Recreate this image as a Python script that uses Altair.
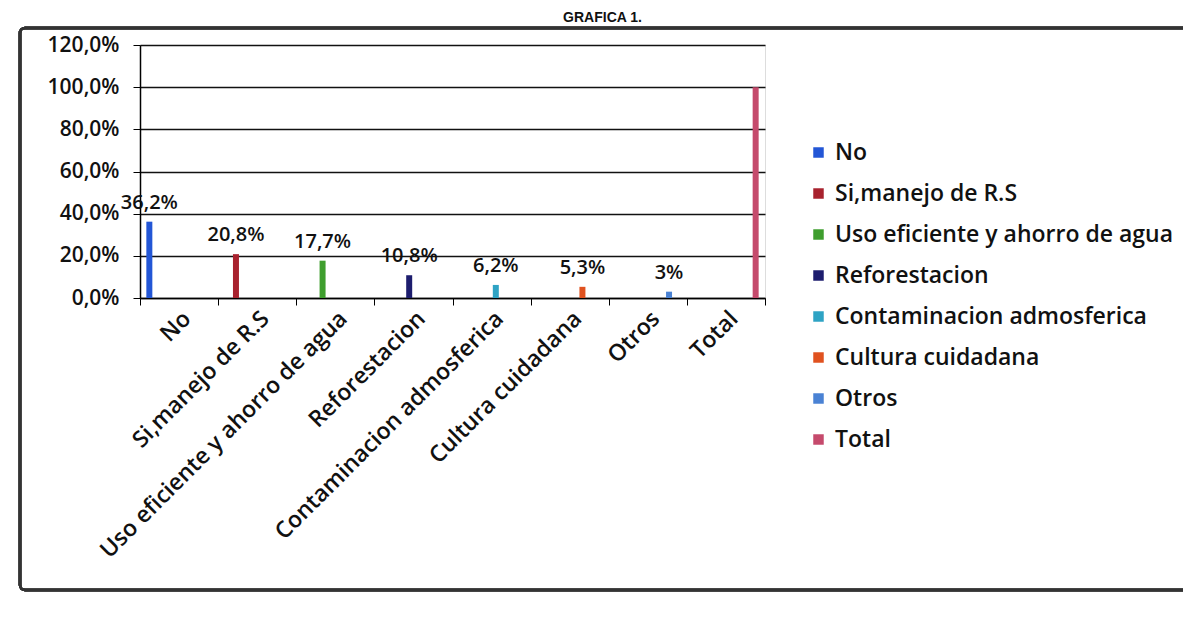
import altair as alt
import pandas as pd

categories = ["No", "Si,manejo de R.S", "Uso eficiente y ahorro de agua", "Reforestacion",
              "Contaminacion admosferica", "Cultura cuidadana", "Otros", "Total"]
values = [0.362, 0.208, 0.177, 0.108, 0.062, 0.053, 0.03, 1.0]
value_labels = ["36,2%", "20,8%", "17,7%", "10,8%", "6,2%", "5,3%", "3%", ""]
colors = ["#2356d6", "#a8222e", "#3f9e2e", "#1d1d6e", "#2ea3c4", "#e0521f", "#4a82d4", "#c54a6c"]
y_ticks = [0, 0.2, 0.4, 0.6, 0.8, 1.0, 1.2]

df = pd.DataFrame({"categoria": categories, "serie": categories,
                   "valor": values, "etiqueta": value_labels})

FONT = "Open Sans"

x_enc = alt.X("categoria:N", sort=categories, title=None,
              scale=alt.Scale(paddingInner=0, paddingOuter=0),
              axis=alt.Axis(labelAngle=-45, labelFontSize=23, labelColor="#111",
                            labelFont=FONT, labelFontWeight=600,
                            tickBand="extent", tickColor="#000",
                            domainColor="#000", domainWidth=1.5, tickSize=7,
                            labelPadding=2, labelLimit=500))
xoff = alt.XOffset("serie:N", sort=categories,
                   scale=alt.Scale(domain=categories, paddingOuter=0.6, paddingInner=0))

bars = alt.Chart(df).mark_bar(size=6).encode(
    x=x_enc,
    xOffset=xoff,
    y=alt.Y("valor:Q", title=None,
            scale=alt.Scale(domain=[0, 1.2], nice=False),
            axis=alt.Axis(values=y_ticks, labelFontSize=21, labelFont=FONT,
                          labelFontWeight=600, labelColor="#111",
                          gridColor="#111", gridWidth=1.6,
                          domainColor="#000", domainWidth=1.5,
                          tickColor="#000", tickSize=7, labelPadding=14,
                          labelExpr="replace(format(datum.value*100, '.1f'), '.', ',') + '%'")),
    color=alt.Color("serie:N", sort=categories, title=None,
                    scale=alt.Scale(domain=categories, range=colors),
                    legend=alt.Legend(orient="none", legendX=667, legendY=96,
                                      symbolType="square", symbolSize=110,
                                      symbolStrokeWidth=0, labelFontSize=23,
                                      labelFont=FONT, labelFontWeight=600,
                                      labelColor="#111", labelOffset=5,
                                      rowPadding=17, labelLimit=500)),
)

labels = alt.Chart(df).mark_text(baseline="bottom", dy=-9, fontSize=20,
                                 font=FONT, fontWeight=600, color="#111").encode(
    x=alt.X("categoria:N", sort=categories),
    xOffset=xoff,
    y="valor:Q",
    text="etiqueta:N",
)

frame = alt.Chart(df).mark_rect(fill=None, stroke="#333", strokeWidth=2.5,
                                cornerRadius=5).encode(
    x=alt.value(-120), x2=alt.value(1070), y=alt.value(-17), y2=alt.value(545)
)

chart = alt.layer(frame, bars, labels).properties(
    width=625, height=253,
    title=alt.TitleParams("GRAFICA 1.", fontSize=14, font="Liberation Sans",
                          fontWeight="bold", anchor="middle", frame="group",
                          dx=150, offset=2, color="#111"),
    autosize=alt.AutoSizeParams(type="none"),
    padding={"left": 132, "top": 37, "right": 418, "bottom": 310},
).configure_view(stroke=None).configure(background="white")

chart.save("out.html", embed_options={"renderer": "svg", "actions": False})
